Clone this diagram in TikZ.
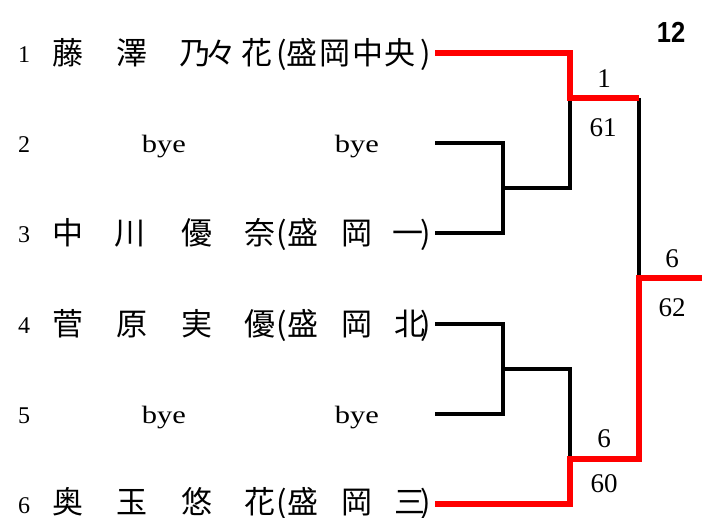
\documentclass[tikz,border=0pt]{standalone}
\usepackage{fontspec}
\setmainfont{Liberation Serif}
\newfontfamily\latw{Liberation Serif}[FakeStretch=1.22]
\newfontfamily\cjk{Noto Sans CJK JP}
\newfontfamily\hdfont{Liberation Sans}
\definecolor{wred}{RGB}{255,0,0}
\tikzset{
  cj/.style={font={\cjk\fontsize{31}{33}\selectfont}, inner sep=0pt, anchor=base},
  lat/.style={font={\fontsize{24}{26}\selectfont}, inner sep=0pt, anchor=base},
  byetext/.style={font={\latw\fontsize{25}{27}\selectfont}, inner sep=0pt, anchor=base},
  score/.style={font={\fontsize{27}{29}\selectfont}, inner sep=0pt, anchor=base},
  bk/.style={draw=black, line width=3.3pt, line join=miter},
  win/.style={draw=wred, line width=6.8pt, line join=miter},
}
\begin{document}
\begin{tikzpicture}[x=1pt,y=-1pt]
\useasboundingbox (0,0) rectangle (702,518);
% row numbers
\foreach \n/\y in {1/53,2/143,3/233,4/324,5/414,6/504}
  \node[lat] (no\n) at (24,\y+9.5) {\n};
% names
\foreach \x/\c [count=\k] in {68/藤,132/澤,195/乃,221/々,257/花,282/(,302/盛,335/岡,368/中,400/央,426/)}
  \node[cj] (ra\k) at (\x,53+12) {\c};
\foreach \x/\c [count=\k] in {68/中,130/川,197/優,260/奈,282/(,303/盛,357/岡,408/一,426/)}
  \node[cj] (rc\k) at (\x,233+12) {\c};
\foreach \x/\c [count=\k] in {68/菅,132/原,197/実,260/優,282/(,303/盛,357/岡,410/北,426/)}
  \node[cj] (rd\k) at (\x,324+12) {\c};
\foreach \x/\c [count=\k] in {68/奥,132/玉,197/悠,260/花,282/(,303/盛,357/岡,410/三,426/)}
  \node[cj] (rf\k) at (\x,514) {\c};
% byes
\node[byetext] (b2a) at (164,153) {bye};
\node[byetext] (b2b) at (357,153) {bye};
\node[byetext] (b5a) at (164,424) {bye};
\node[byetext] (b5b) at (357,424) {bye};
% title number
\node[font={\hdfont\bfseries\fontsize{29}{31}\selectfont}, inner sep=0pt, anchor=base] (title) at (671,43) {\scalebox{0.88}[1]{12}};
% coordinates
\coordinate (e1) at (435,53);
\coordinate (e2) at (435,143);
\coordinate (e3) at (435,233);
\coordinate (e4) at (435,324);
\coordinate (e5) at (435,414);
\coordinate (e6) at (435,504);
\coordinate (j23) at (503,188);
\coordinate (j45) at (503,369);
\coordinate (s1) at (570,98);
\coordinate (s2) at (570,459);
\coordinate (f1) at (639,98);
\coordinate (f2) at (639,459);
\coordinate (fin) at (639,278);
\coordinate (out) at (702,278);
% black brackets
\draw[bk] (e2) -- (503,143) -- (503,233) -- (e3);
\draw[bk] (j23) -- (570,188) -- (s1);
\draw[bk] (e4) -- (503,324) -- (503,414) -- (e5);
\draw[bk] (j45) -- (570,369) -- (s2);
\draw[bk] (f1) -- (fin);
% winners
\draw[win] (e1) -- (570,53) -- (s1) -- (f1);
\draw[win] (e6) -- (570,504) -- (s2) -- (f2) -- (fin) -- (out);
% scores
\node[score] (w1) at (604,88) {1};
\node[score] (sc1) at (603,137) {61};
\node[score] (w2) at (604,448) {6};
\node[score] (sc2) at (604,493) {60};
\node[score] (w3) at (672,268) {6};
\node[score] (sc3) at (672,317) {62};
\end{tikzpicture}
\end{document}
